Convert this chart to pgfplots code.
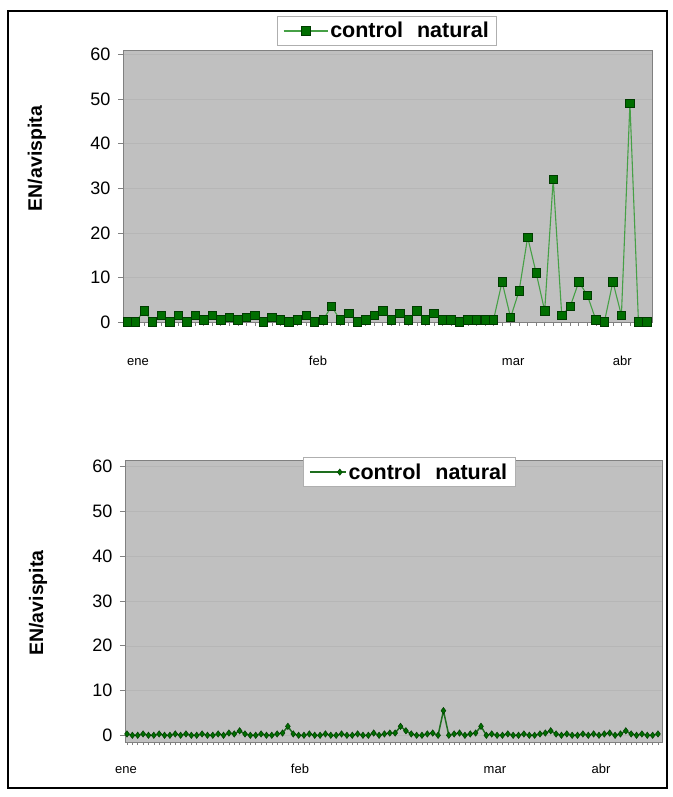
\documentclass[border=0pt]{standalone}
\usepackage{fontspec}
\setmainfont{Liberation Sans}
\usepackage{pgfplots}
\usepackage{pgfplotstable}
\pgfplotsset{compat=1.18}

\definecolor{plotgray}{RGB}{192,192,192}
\definecolor{axgray}{RGB}{128,128,128}
\definecolor{gridgray}{RGB}{182,182,182}
\definecolor{linegreen}{RGB}{70,160,70}
\definecolor{markgreen}{RGB}{0,110,0}
\definecolor{markdark}{RGB}{0,60,0}
\definecolor{darkline}{RGB}{30,110,30}
\definecolor{legborder}{RGB}{175,175,175}

\pgfplotstableread{
i v
0 0
1 0
2 2.5
3 0
4 1.5
5 0
6 1.5
7 0
8 1.5
9 0.5
10 1.5
11 0.5
12 1
13 0.5
14 1
15 1.5
16 0
17 1
18 0.5
19 0
20 0.5
21 1.5
22 0
23 0.5
24 3.5
25 0.5
26 2
27 0
28 0.5
29 1.5
30 2.5
31 0.5
32 2
33 0.5
34 2.5
35 0.5
36 2
37 0.5
38 0.5
39 0
40 0.5
41 0.5
42 0.5
43 0.5
44 9
45 1
46 7
47 19
48 11
49 2.5
50 32
51 1.5
52 3.5
53 9
54 6
55 0.5
56 0
57 9
58 1.5
59 49
60 0
61 0
}\toptable

\pgfplotstableread{
i v
0 0.3
1 0
2 0
3 0.3
4 0
5 0
6 0.3
7 0
8 0
9 0.3
10 0
11 0.3
12 0
13 0
14 0.3
15 0
16 0
17 0.3
18 0
19 0.5
20 0.3
21 1
22 0.3
23 0
24 0
25 0.3
26 0
27 0
28 0.3
29 0.5
30 2
31 0.3
32 0
33 0
34 0.3
35 0
36 0
37 0.3
38 0
39 0
40 0.3
41 0
42 0
43 0.3
44 0
45 0
46 0.5
47 0
48 0.3
49 0.5
50 0.5
51 2
52 1
53 0.3
54 0
55 0
56 0.3
57 0.5
58 0
59 5.5
60 0
61 0.3
62 0.5
63 0
64 0.3
65 0.5
66 2
67 0
68 0.3
69 0
70 0
71 0.3
72 0
73 0
74 0.3
75 0
76 0
77 0.3
78 0.5
79 1
80 0.3
81 0
82 0.3
83 0
84 0
85 0.3
86 0
87 0.3
88 0
89 0.3
90 0.5
91 0
92 0.3
93 1
94 0.3
95 0
96 0.3
97 0
98 0
99 0.3
}\bottable

\pgfplotsset{
  excelstyle/.style={
    scale only axis,
    anchor=south west,
    axis background/.style={fill=plotgray},
    axis line style={draw=axgray, line width=0.8pt},
    ytick={0,10,...,60},
    xtick={-100},
    xtick pos=bottom, ytick pos=left,
    tick align=outside,
    major tick length=5pt,
    minor tick length=4pt,
    tick style={draw=axgray, line width=0.6pt},
    ymajorgrids,
    grid style={draw=gridgray, line width=0.5pt},
    /pgf/number format/assume math mode=true,
    yticklabel style={font=\fontsize{18}{18}\selectfont, xshift=-4pt},
    extra x tick style={major tick length=0pt, xticklabel style={font=\fontsize{13}{13}\selectfont, text height=9.5pt, text depth=3pt}},
    clip=false,
    legend cell align=left,
    ylabel style={font=\bfseries\fontsize{19.5}{19.5}\selectfont, anchor=center},
  }
}

\begin{document}
\begin{tikzpicture}[x=1pt,y=1pt]
\path[use as bounding box] (0,0) rectangle (672,797);
\draw[line width=1.6pt] (8,9) rectangle (667,786);

% top chart
\begin{axis}[excelstyle,
  at={(123pt,475pt)}, width=529pt, height=272pt,
  xmin=-0.47, xmax=61.59, ymin=0, ymax=61,
  minor xtick={0,1,...,61},
  extra x ticks={1.29,22.4,45.3,58.1},
  extra x tick labels={ene,feb,mar,abr},
  extra x tick style={xticklabel style={yshift=-30pt}},
  ylabel={EN/avispita},
  ylabel style={at={(axis description cs:-0.163,0.601)}},
  legend style={at={(axis description cs:0.499,1.07)}, anchor=center,
    draw=legborder, fill=white, line width=0.8pt,
    font=\bfseries\fontsize{21.5}{21.5}\selectfont,
    inner xsep=6pt, inner ysep=4pt},
  legend image code/.code={\draw[mark repeat=2,mark phase=2,#1] plot coordinates {(0pt,0pt) (22pt,0pt) (44pt,0pt)};},
]
\addplot[color=linegreen, line width=1.1pt, mark=square*, mark size=4.2pt,
  mark options={fill=markgreen, draw=markdark, line width=0.6pt}]
  table[x=i, y=v] {\toptable};
\addlegendentry{control\hspace{14pt}natural}
\end{axis}

% bottom chart
\begin{axis}[excelstyle,
  at={(125pt,55pt)}, width=537pt, height=282pt,
  xmin=-0.37, xmax=99.75, ymin=-1.5, ymax=61.5,
  minor xtick={0,1,...,99},
  minor tick length=3pt,
  extra x ticks={-0.19,32.25,68.6,88.4},
  extra x tick labels={ene,feb,mar,abr},
  extra x tick style={xticklabel style={yshift=-18pt}},
  ylabel={EN/avispita},
  ylabel style={at={(axis description cs:-0.162,0.493)}},
  legend style={at={(axis description cs:0.529,0.957)}, anchor=center,
    draw=legborder, fill=white, line width=0.8pt,
    font=\bfseries\fontsize{21.5}{21.5}\selectfont,
    inner xsep=6pt, inner ysep=4pt},
  legend image code/.code={\draw[mark repeat=2,mark phase=2,#1] plot coordinates {(0pt,0pt) (30pt,0pt) (36pt,0pt)};},
]
\addplot[color=darkline, line width=1.5pt, mark=diamond*, mark size=3.2pt,
  mark options={fill=markgreen, draw=markdark, line width=0.5pt}]
  table[x=i, y=v] {\bottable};
\addlegendentry{control\hspace{14pt}natural}
\end{axis}
\end{tikzpicture}
\end{document}
